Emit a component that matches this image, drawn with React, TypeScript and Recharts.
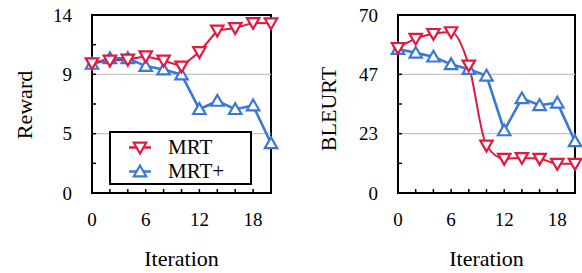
import React from 'react';
import { LineChart, Line, XAxis, YAxis, ReferenceLine, ReferenceArea, Legend } from 'recharts';

const iterations = [0, 2, 4, 6, 8, 10, 12, 14, 16, 18, 20];
const rewardMRT = [10.21, 10.42, 10.5, 10.76, 10.42, 9.96, 11.09, 12.78, 12.98, 13.38, 13.35];
const rewardMRTPlus = [10.15, 10.6, 10.6, 9.98, 9.71, 9.31, 6.59, 7.24, 6.59, 6.88, 3.91];
const bleurtMRT = [57.1, 60.7, 62.6, 63.3, 50.2, 18.7, 13.5, 13.8, 13.5, 11.5, 11.5];
const bleurtMRTPlus = [56.6, 55.1, 53.6, 50.6, 48.7, 46.1, 24.6, 37.2, 34.5, 35.5, 20.3];

const xTicks = [0, 2, 4, 6, 8, 10, 12, 14, 16, 18, 20];
const xTickLabels = ['0', '', '', '6', '', '', '12', '', '', '18', ''];
const rewardYTicks = [0, 2.3333, 4.6667, 7, 9.3333, 11.6667, 14];
const rewardYTickLabels = ['0', '', '5', '', '9', '', '14'];
const bleurtYTicks = [0, 11.6667, 23.3333, 35, 46.6667, 58.3333, 70];
const bleurtYTickLabels = ['0', '', '23', '', '47', '', '70'];

const seriesNames = ['MRT', 'MRT+'];
const xLabel = 'Iteration';
const yLabels = ['Reward', 'BLEURT'];

const RED = '#E2183F';
const BLUE = '#3B78D6';
const FONT = 'Liberation Serif, Tinos, Times New Roman, Times, DejaVu Serif, serif';

const buildRows = (a: number[], b: number[]) =>
  iterations.map((it, i) => ({ it, mrt: a[i], mrtp: b[i] }));

const rewardRows = buildRows(rewardMRT, rewardMRTPlus);
const bleurtRows = buildRows(bleurtMRT, bleurtMRTPlus);

const tri = (cx: number, cy: number, down: boolean) => {
  const hw = 6.2;
  const a = 4.8;
  const b = 6;
  return down
    ? `${cx - hw},${cy - a} ${cx + hw},${cy - a} ${cx},${cy + b}`
    : `${cx - hw},${cy + a} ${cx + hw},${cy + a} ${cx},${cy - b}`;
};

const makeDot = (color: string, down: boolean) => (p: any) => {
  const { cx, cy, index } = p;
  if (cx == null || cy == null) return <g key={`d${index}`} />;
  return (
    <polygon
      key={`d${index}`}
      points={tri(cx, cy, down)}
      fill="#fff"
      stroke={color}
      strokeWidth={2.2}
      strokeLinejoin="miter"
    />
  );
};

const LegendBox = () => (
  <div
    style={{
      width: 143,
      height: 54,
      boxSizing: 'border-box',
      border: '2px solid #000',
      background: '#fff',
      fontFamily: FONT,
      fontSize: 21,
      color: '#000',
      position: 'relative',
    }}
  >
    {seriesNames.map((n, i) => {
      const color = i === 0 ? RED : BLUE;
      const top = i === 0 ? 2 : 26;
      return (
        <div key={n} style={{ position: 'absolute', left: 0, top, height: 24, width: 140 }}>
          <svg width={40} height={24} style={{ position: 'absolute', left: 16, top: 0 }}>
            <line x1={2} x2={24} y1={12.5} y2={12.5} stroke={color} strokeWidth={2.5} />
            <polygon points={tri(13, 12.5, i === 0)} fill="#fff" stroke={color} strokeWidth={2.2} />
          </svg>
          <span style={{ position: 'absolute', left: 57, top: -1, lineHeight: '26px', whiteSpace: 'nowrap' }}>{n}</span>
        </div>
      );
    })}
  </div>
);

type PanelProps = {
  rows: any[];
  yMax: number;
  yTicks: number[];
  yTickLabels: string[];
  yTitle: string;
  yAxisWidth: number;
  rightMargin: number;
  yTitleX: number;
  yTitleY: number;
  redType: 'linear' | 'monotone';
  showLegend: boolean;
};

const Panel = (p: PanelProps) => {
  const axisLine = { stroke: '#000', strokeWidth: 2 };
  const tickLine = { stroke: '#000', strokeWidth: 1.5 };
  const tickStyle = { fill: '#000', fontSize: 19, fontFamily: FONT };
  const plotLeft = p.yAxisWidth;
  const plotRight = 291 - p.rightMargin;
  return (
    <LineChart
      width={291}
      height={273}
      data={p.rows}
      margin={{ top: 15, right: p.rightMargin, left: 0, bottom: 0 }}
      style={{ fontFamily: FONT }}
    >
      <ReferenceArea x1={0} x2={20} y1={0} y2={p.yMax} fill="none" stroke="#000" strokeWidth={2} ifOverflow="visible" />
      <ReferenceLine y={p.yTicks[2]} stroke="#c4c4c4" strokeWidth={1.2} />
      <ReferenceLine y={p.yTicks[4]} stroke="#c4c4c4" strokeWidth={1.2} />
      <XAxis
        dataKey="it"
        type="number"
        domain={[0, 20]}
        ticks={xTicks}
        interval={0}
        height={80}
        axisLine={axisLine}
        tickLine={tickLine}
        tickSize={-4}
        tickMargin={24}
        tick={tickStyle}
        tickFormatter={(v: any, i: number) => xTickLabels[i] ?? ''}
        label={(lp: any) => (
          <text
            x={(plotLeft + plotRight) / 2}
            y={266}
            textAnchor="middle"
            style={{ fontSize: 22, fontFamily: FONT }}
            fill="#000"
          >
            {xLabel}
          </text>
        )}
      />
      <YAxis
        type="number"
        domain={[0, p.yMax]}
        ticks={p.yTicks}
        interval={0}
        width={p.yAxisWidth}
        axisLine={axisLine}
        tickLine={tickLine}
        tickSize={-4}
        tickMargin={24}
        tick={tickStyle}
        tickFormatter={(v: any, i: number) => p.yTickLabels[i] ?? ''}
        label={(lp: any) => (
          <text
            x={p.yTitleX}
            y={p.yTitleY}
            textAnchor="middle"
            style={{ fontSize: 22, fontFamily: FONT }}
            fill="#000"
            transform={`rotate(-90 ${p.yTitleX} ${p.yTitleY})`}
          >
            {p.yTitle}
          </text>
        )}
      />
      <Line
        dataKey="mrtp"
        name={seriesNames[1]}
        type="linear"
        stroke={BLUE}
        strokeWidth={2.6}
        dot={makeDot(BLUE, false)}
        activeDot={false}
        isAnimationActive={false}
      />
      <Line
        dataKey="mrt"
        name={seriesNames[0]}
        type={p.redType}
        stroke={RED}
        strokeWidth={2}
        dot={makeDot(RED, true)}
        activeDot={false}
        isAnimationActive={false}
      />
      {p.showLegend && (
        <Legend
          layout="vertical"
          align="center"
          verticalAlign="middle"
          content={() => <LegendBox />}
          wrapperStyle={{ left: 109, top: 131, width: 143, height: 54 }}
        />
      )}
    </LineChart>
  );
};

export default function App() {
  return (
    <div style={{ position: 'absolute', left: 0, top: 0, width: 582, height: 273, background: '#fff', fontFamily: FONT }}>
      <div style={{ position: 'absolute', left: 0, top: 0 }}>
        <Panel
          rows={rewardRows}
          yMax={14}
          yTicks={rewardYTicks}
          yTickLabels={rewardYTickLabels}
          yTitle={yLabels[0]}
          yAxisWidth={92}
          rightMargin={20}
          yTitleX={32}
          yTitleY={105}
          redType="linear"
          showLegend={true}
        />
      </div>
      <div style={{ position: 'absolute', left: 291, top: 0 }}>
        <Panel
          rows={bleurtRows}
          yMax={70}
          yTicks={bleurtYTicks}
          yTickLabels={bleurtYTickLabels}
          yTitle={yLabels[1]}
          yAxisWidth={107}
          rightMargin={7}
          yTitleX={44.5}
          yTitleY={109}
          redType="monotone"
          showLegend={false}
        />
      </div>
    </div>
  );
}
